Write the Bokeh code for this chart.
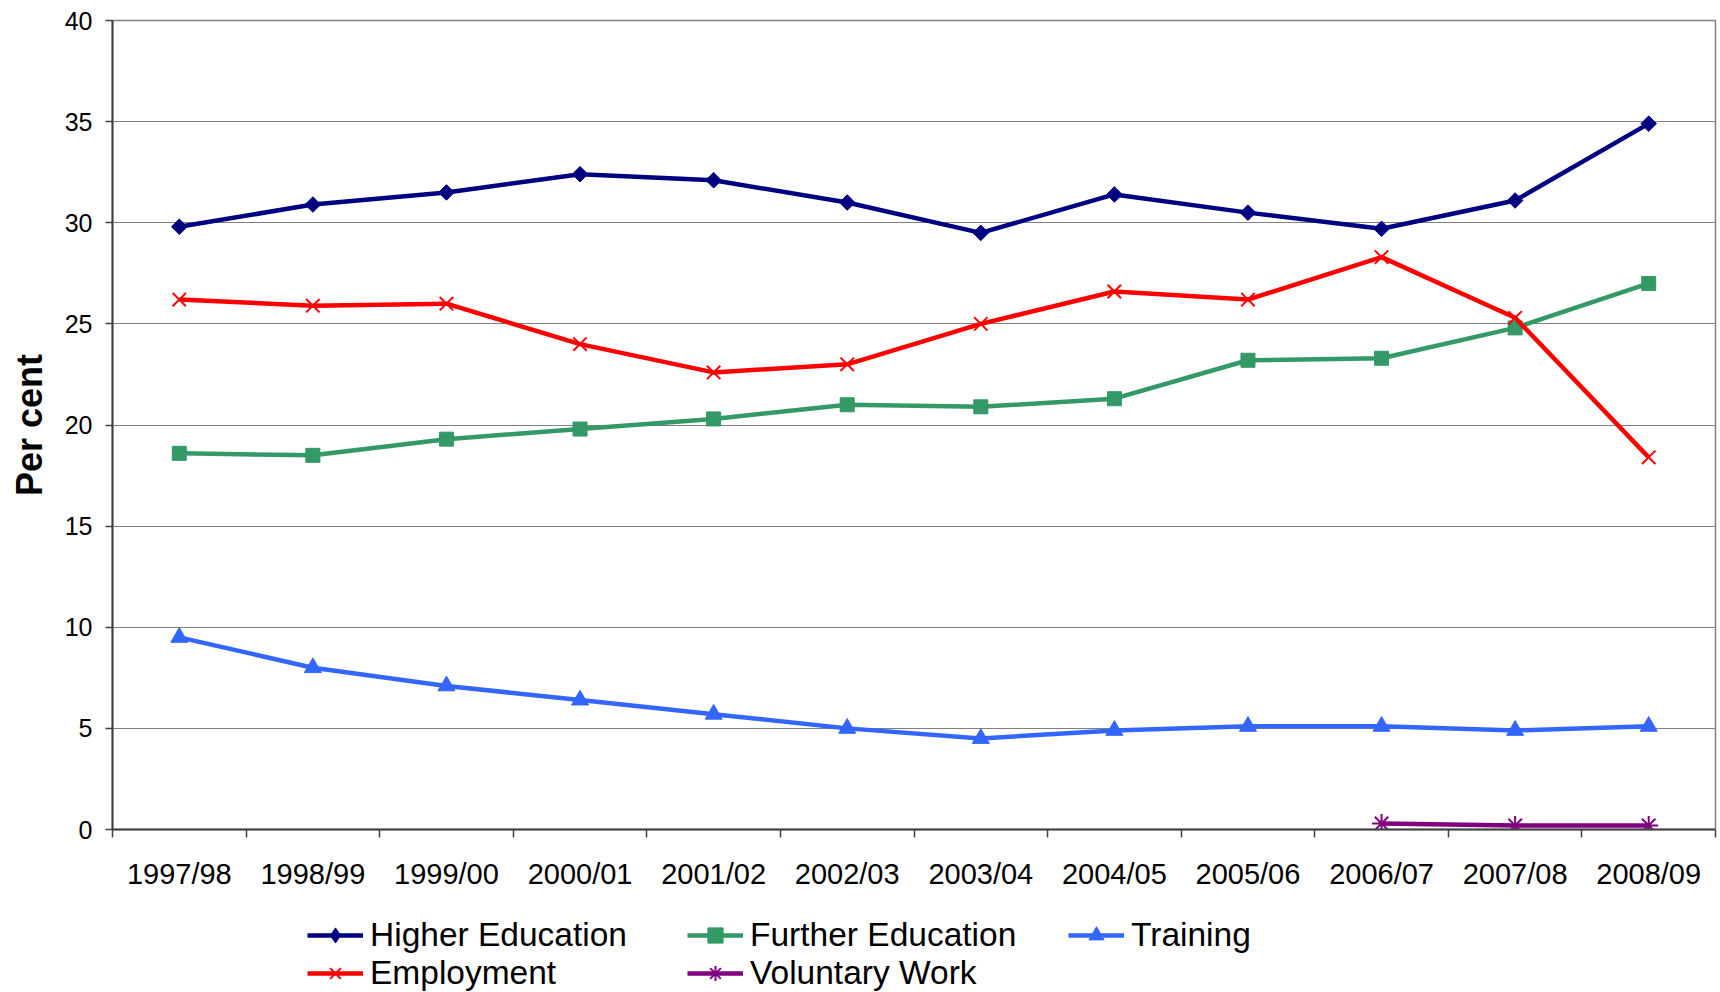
import numpy as np
from bokeh.plotting import figure
from bokeh.layouts import column
from bokeh.models import Range1d, FixedTicker, Legend, LegendItem, ColumnDataSource
from bokeh.embed import file_html
from bokeh.resources import INLINE

categories = ["1997/98", "1998/99", "1999/00", "2000/01", "2001/02", "2002/03",
              "2003/04", "2004/05", "2005/06", "2006/07", "2007/08", "2008/09"]
higher_education = [29.8, 30.9, 31.5, 32.4, 32.1, 31.0, 29.5, 31.4, 30.5, 29.7, 31.1, 34.9]
employment = [26.2, 25.9, 26.0, 24.0, 22.6, 23.0, 25.0, 26.6, 26.2, 28.3, 25.3, 18.4]
further_education = [18.6, 18.5, 19.3, 19.8, 20.3, 21.0, 20.9, 21.3, 23.2, 23.3, 24.8, 27.0]
training = [9.5, 8.0, 7.1, 6.4, 5.7, 5.0, 4.5, 4.9, 5.1, 5.1, 4.9, 5.1]
voluntary_work = [None, None, None, None, None, None, None, None, None, 0.3, 0.2, 0.2]
y_ticks = [0, 5, 10, 15, 20, 25, 30, 35, 40]

FONT = "Liberation Sans"
W = 1720
H1 = 905
H2 = 87
LEFT = 112
RIGHT = 5
xs = list(range(1, len(categories) + 1))

p = figure(width=W, height=H1, x_range=Range1d(0.5, len(categories) + 0.5),
           y_range=Range1d(0, 40), output_backend="svg", toolbar_location=None,
           min_border_left=LEFT, min_border_right=RIGHT, min_border_top=20,
           min_border_bottom=H1 - 829)
p.background_fill_color = "white"
p.border_fill_color = "white"
p.outline_line_color = "#808080"
p.outline_line_width = 1.5

p.xgrid.visible = False
p.ygrid.ticker = FixedTicker(ticks=y_ticks)
p.ygrid.grid_line_color = "#808080"
p.ygrid.grid_line_width = 1

yax = p.yaxis[0]
yax.ticker = FixedTicker(ticks=y_ticks)
yax.axis_line_color = "#404040"
yax.axis_line_width = 2
yax.major_tick_line_color = "#404040"
yax.major_tick_line_width = 1.5
yax.major_tick_out = 7
yax.major_tick_in = 0
yax.minor_tick_line_color = None
yax.major_label_text_font = FONT
yax.major_label_text_font_size = "25px"
yax.major_label_text_color = "black"
yax.major_label_standoff = 13
yax.axis_label = "Per cent"
yax.axis_label_text_font = FONT
yax.axis_label_text_font_style = "bold"
yax.axis_label_text_font_size = "36px"
yax.axis_label_text_color = "black"
yax.axis_label_standoff = 12

xax = p.xaxis[0]
xax.ticker = FixedTicker(ticks=xs, minor_ticks=[i + 0.5 for i in range(len(categories) + 1)])
xax.major_label_overrides = {x: c for x, c in zip(xs, categories)}
xax.axis_line_color = "#404040"
xax.axis_line_width = 2
xax.major_tick_line_color = None
xax.major_tick_out = 8
xax.major_tick_in = 0
xax.minor_tick_line_color = "#404040"
xax.minor_tick_line_width = 1.5
xax.minor_tick_out = 8
xax.minor_tick_in = 0
xax.major_label_text_font = FONT
xax.major_label_text_font_size = "29px"
xax.major_label_text_color = "black"
xax.major_label_standoff = 20

# (name, values, colour, plot marker, legend-sample marker)
series = [
    ("Higher Education", higher_education, "#000080",
     dict(marker="square", size=11, angle=np.pi / 4), dict(marker="diamond", size=16)),
    ("Further Education", further_education, "#339966",
     dict(marker="square", size=14), dict(marker="square", size=14)),
    ("Training", training, "#3366FF",
     dict(marker="triangle", size=17), dict(marker="triangle", size=17)),
    ("Employment", employment, "#FF0000",
     dict(marker="x", size=19, line_width=2), dict(marker="x", size=19, line_width=2)),
    ("Voluntary Work", voluntary_work, "#800080",
     dict(marker="asterisk", size=19, line_width=2), dict(marker="asterisk", size=19, line_width=2)),
]

# legend strip: a second figure whose ranges keep the series out of view,
# so that only the legend samples are drawn there
q = figure(width=W, height=H2, x_range=Range1d(0.5, len(categories) + 0.5),
           y_range=Range1d(-200, -100), output_backend="svg", toolbar_location=None,
           min_border_left=LEFT, min_border_right=RIGHT, min_border_top=0, min_border_bottom=0,
           x_axis_location=None, y_axis_location=None)
q.grid.visible = False
q.outline_line_color = None
q.background_fill_color = "white"
q.border_fill_color = "white"

leg_items = {}
for name, vals, color, mk, lmk in series:
    y = [np.nan if v is None else v for v in vals]
    src = ColumnDataSource(dict(x=xs, y=y))
    p.line("x", "y", source=src, line_color=color, line_width=4.5, line_join="round")
    p.scatter("x", "y", source=src, fill_color=color, line_color=color, **mk)
    l1 = q.line("x", "y", source=src, line_color=color, line_width=4.5)
    l2 = q.scatter("x", "y", source=src, fill_color=color, line_color=color, **lmk)
    leg_items[name] = LegendItem(label=name, renderers=[l1, l2], index=len(xs) - 1)

# (name, x of sample from frame left, y of legend bottom from strip bottom)
legend_pos = [
    ("Higher Education", 195, 38),
    ("Further Education", 575, 38),
    ("Training", 956, 38),
    ("Employment", 195, 0),
    ("Voluntary Work", 575, 0),
]
for name, lx, ly in legend_pos:
    leg = Legend(items=[leg_items[name]], location=(lx, ly))
    leg.padding = 0
    leg.margin = 0
    leg.border_line_color = None
    leg.background_fill_alpha = 0
    leg.label_text_font = FONT
    leg.label_text_font_size = "33.5px"
    leg.label_text_color = "black"
    leg.glyph_width = 56
    leg.glyph_height = 38
    leg.label_height = 38
    leg.label_standoff = 7
    q.add_layout(leg)

layout = column(p, q, spacing=0)
open("out.html", "w").write(file_html(layout, INLINE))
